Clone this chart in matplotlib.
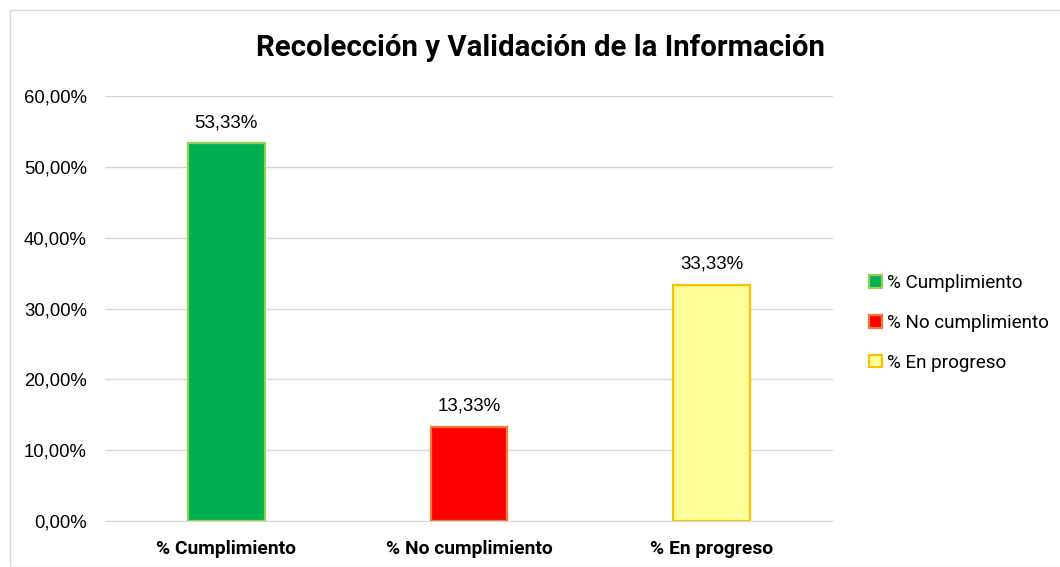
import matplotlib.pyplot as plt
from matplotlib.patches import Rectangle
from matplotlib.ticker import FuncFormatter
import numpy as np

# Datos del grafico
categorias = ["% Cumplimiento", "% No cumplimiento", "% En progreso"]
valores = [0.5333, 0.1333, 0.3333]
etiquetas = ["53,33%", "13,33%", "33,33%"]
ticks_y = [0.0, 0.1, 0.2, 0.3, 0.4, 0.5, 0.6]

colores = ["#00B050", "#FF0000", "#FFFF99"]
bordes = ["#92D050", "#ED7D31", "#FFC000"]

plt.rcParams['font.family'] = ['Roboto', 'DejaVu Sans']
numfont = ['Liberation Sans', 'DejaVu Sans']

fig = plt.figure(figsize=(10.6, 5.67), dpi=100)
# marco gris del grafico
fig.patches.append(Rectangle((10/1060, 0), 1.2, 1 - 10/567, transform=fig.transFigure,
                             fill=False, edgecolor="#D9D9D9", linewidth=1))

ax = fig.add_axes([105/1060, 1 - 521/567, (833-105)/1060, (521-96)/567])

x = np.arange(len(categorias))
barras = ax.bar(x, valores, width=0.315, color=colores, edgecolor=bordes,
                linewidth=1.6, label=categorias, zorder=3)

for xi, v, t in zip(x, valores, etiquetas):
    ax.text(xi, v + 0.017, t, ha="center", va="bottom", fontsize=13.5, family=numfont)

ax.set_xlim(-0.5, 2.5)
ax.set_ylim(0, 0.6)
ax.set_yticks(ticks_y)
ax.yaxis.set_major_formatter(FuncFormatter(lambda v, p: f"{v*100:.2f}%".replace(".", ",")))
for lab in ax.get_yticklabels():
    lab.set_family(numfont)
    lab.set_fontsize(13.3)
ax.set_xticks(x)
ax.set_xticklabels(categorias, fontsize=13.9, fontweight="bold")
ax.tick_params(axis="both", length=0)
ax.tick_params(axis="y", pad=13)
ax.tick_params(axis="x", pad=14)

ax.grid(axis="y", color="#D9D9D9", linewidth=1, zorder=0)
for s in ["top", "right", "left"]:
    ax.spines[s].set_visible(False)
ax.spines["bottom"].set_color("#D9D9D9")

fig.text(540/1060, 1 - 48/567, "Recolección y Validación de la Información",
         ha="center", va="center", fontsize=21.2, fontweight="bold")

ax.legend(handles=barras, labels=categorias, loc="center left",
          bbox_to_anchor=(860/1060, 1 - 323/567), bbox_transform=fig.transFigure,
          frameon=False, fontsize=13.6, handlelength=0.65, handleheight=0.65,
          handletextpad=0.3, labelspacing=1.15, borderpad=0)

plt.savefig("out.png", dpi=100)
